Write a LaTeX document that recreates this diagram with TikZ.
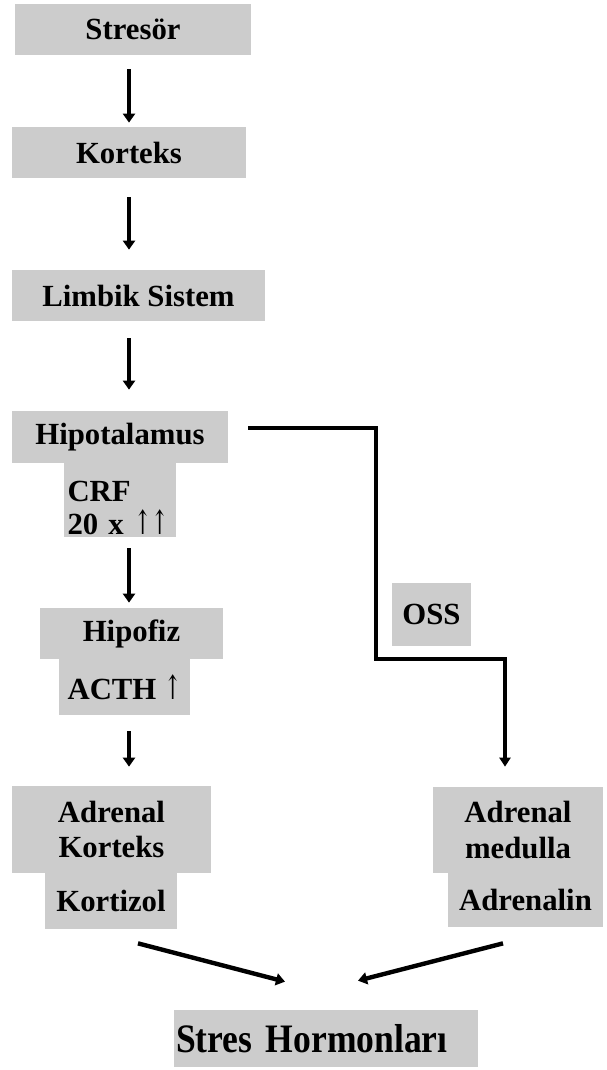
\documentclass[tikz,border=0pt]{standalone}
\usepackage{fontspec}
\setmainfont{Liberation Serif}
\newfontfamily\arrowfont{DejaVu Serif}
\usepackage{xcolor}
\usepackage{graphicx}
\usetikzlibrary{arrows.meta,positioning,calc}
\definecolor{boxgray}{RGB}{204,204,204}
\newcommand{\upar}{\scalebox{0.62}[1]{\arrowfont\mdseries\fontsize{19}{20}\selectfont ↑}}
\tikzset{
    box/.style={fill=boxgray, inner sep=0pt, align=center,
        font=\fontsize{17.5}{20}\selectfont\bfseries},
    boxsize/.style 2 args={minimum width=#1*0.02cm, minimum height=#2*0.02cm},
    arr/.style={-{Triangle[length=0.18cm,width=0.24cm]}, line width=2.5pt},
    conn/.style={-{Triangle[length=0.18cm,width=0.22cm]}, line width=2pt, line join=miter}
}

\begin{document}
\begin{tikzpicture}[x=0.02cm, y=-0.02cm]
    \useasboundingbox (0,0) rectangle (606,1070);

    % Main chain
    \node[box, boxsize={236}{51}] (stresor) at (133,29.5) {Stresör};
    \node[box, boxsize={234}{51}] (korteks) at (129,152.5) {Korteks};
    \node[box, boxsize={253}{51}] (limbik) at (138.5,295.5) {Limbik Sistem};
    \node[box, boxsize={216}{52}] (hipotalamus) at (120,437) {Hipotalamus};
    \node[box, boxsize={112}{74}, align=left, text width=2.1cm,
        font=\fontsize{17.5}{18.8}\selectfont\bfseries] (crf) at (120,500) {\rule{0pt}{21pt}CRF\\20 x \upar\upar};
    \node[box, boxsize={183}{51}] (hipofiz) at (131.5,633.5) {Hipofiz};
    \node[box, boxsize={131}{56}] (acth) at (124.5,687) {ACTH \upar};
    \node[box, boxsize={199}{87}] (adrkorteks) at (111.5,829.5) {Adrenal\\Korteks};
    \node[box, boxsize={132}{56}] (kortizol) at (111,901) {Kortizol};

    % Sympathetic branch
    \node[box, boxsize={79}{63}] (oss) at (431.5,614.5) {OSS};
    \node[box, boxsize={170}{86}] (adrmedulla) at (518,830) {Adrenal\\medulla};
    \node[box, boxsize={155}{54}] (adrenalin) at (525.5,900) {Adrenalin};

    % Result
    \node[box, boxsize={304}{57}, align=left, text width=6cm,
        font=\fontsize{23}{26}\selectfont\bfseries\addfontfeature{FakeStretch=0.88}]
        (hormonlar) at (326,1038.5) {Stres Hormonları};

    % Arrows
    \draw[arr] ($(stresor.south)+(-4,14)$) -- ($(korteks.north)+(0,-4)$);
    \draw[arr] ($(korteks.south)+(0,19)$) -- ($(limbik.north)+(-9.5,-20)$);
    \draw[arr] ($(limbik.south)+(-9.5,17)$) -- ($(hipotalamus.north)+(9,-21)$);
    \draw[arr] ($(crf.south)+(9,11)$) -- ($(hipofiz.north)+(-2.5,-5)$);
    \draw[arr] ($(acth.south)+(4.5,16)$) -- ($(adrkorteks.north)+(17.5,-19)$);

    \coordinate (knee1) at (376,428);
    \coordinate (knee2) at (376,659);
    \draw[conn] ($(hipotalamus.east)+(20,-9)$) -- (knee1) -- (knee2)
        -| ($(adrmedulla.north)+(-13,-20)$);

    \draw[arr] ($(kortizol.south)+(27,14)$) -- ($(hormonlar.north)+(-41,-28)$);
    \draw[arr] ($(adrenalin.south)+(-22.5,16)$) -- ($(hormonlar.north)+(32,-29)$);
\end{tikzpicture}
\end{document}
